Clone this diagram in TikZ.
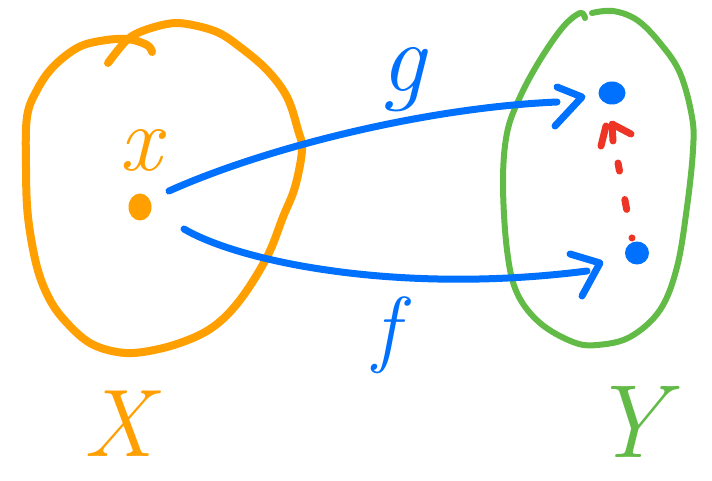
\documentclass[tikz,border=0pt]{standalone}
\usetikzlibrary{shapes.geometric}
\definecolor{hor}{RGB}{255,159,0}
\definecolor{hbl}{RGB}{0,112,255}
\definecolor{hgr}{RGB}{98,187,70}
\definecolor{hrd}{RGB}{238,52,36}
\begin{document}
\begin{tikzpicture}[x=1pt,y=-1pt, line cap=round, line join=round,
  pen/.style={draw=#1, line width=7.5},
  lbl/.style={text=#1, inner sep=0pt},
  dotnode/.style={ellipse, fill=#1, inner sep=0pt},
  ahead/.style={draw=#1, line width=7}]
\useasboundingbox (0,0) rectangle (712,481);
\fill[white] (0,0) rectangle (712,481);

% orange set X
\draw[pen=hor, line width=8] plot[smooth, tension=0.6] coordinates {(108,63) (125,42) (140,32) (167,24) (187,24) (217,32) (240,47) (267,70) (287,97) (298,130) (302,150) (295,187) (283,217) (267,257) (240,300) (213,327) (180,343) (143,352) (117,352) (90,343) (67,323) (50,300) (37,267) (28,217) (26,167) (27,117) (37,90) (53,67) (77,48) (100,41) (127,39) (147,45) (152,52)};

% green set Y
\draw[pen=hgr, line width=6] plot[smooth, tension=0.6] coordinates {(585,18) (580,13) (563,27) (540,60) (520,97) (507,133) (503,183) (507,250) (517,293) (540,323) (573,342) (597,345) (630,337) (660,310) (677,267) (687,207) (693,150) (692,117) (680,73) (660,43) (637,20) (613,11) (592,13)};

% labels
\node[lbl=hor, font={\fontsize{93}{93}\selectfont\itshape}] (xlab) at (140,150) {x};
\node[lbl=hbl, font={\fontsize{100}{100}\selectfont\itshape}] (glab) at (403,80) {g};
\node[lbl=hbl, font={\fontsize{85}{85}\selectfont\itshape}] (flab) at (386,335) {f};
\node[lbl=hor, font={\fontsize{96}{96}\selectfont\itshape}] (Xlab) at (118,424) {X};
\node[lbl=hgr, font={\fontsize{104}{104}\selectfont\itshape}] (Ylab) at (628,422) {Y};

% points
\node[dotnode=hor, minimum width=23, minimum height=27] (xp) at (140,207) {};
\node[dotnode=hbl, minimum width=27, minimum height=23] (gy) at (612,93) {};
\node[dotnode=hbl, minimum width=24, minimum height=23] (fy) at (637,253) {};

% arrow g
\coordinate (gs) at (169,191);
\coordinate (ge) at (557,102);
\coordinate (ga) at (582,97);
\draw[pen=hbl, line width=7] (gs) .. controls (260,150) and (420,108) .. (ge);
\draw[ahead=hbl] (ga) ++(-25,-10) -- (ga) -- ++(-27,29);

% arrow f
\coordinate (fs) at (184,229);
\coordinate (fe) at (587,271);
\coordinate (fa) at (600,263);
\draw[pen=hbl, line width=7] (fs) .. controls (240,262) and (400,295) .. (fe);
\draw[ahead=hbl] (fa) ++(-30,-9) -- (fa) -- ++(-18,33);

% red dashed
\coordinate (rs) at (632,238);
\coordinate (re) at (618,163);
\draw[hrd, line width=7, dash pattern=on 0.1pt off 29pt on 10pt off 29pt on 11pt off 60pt] (rs) -- (re);
\coordinate (ra) at (606,126);
\draw[ahead=hrd] (601,146) -- (ra);
\draw[ahead=hrd] (613,141) -- (612,124) -- (631,134);
\end{tikzpicture}
\end{document}
